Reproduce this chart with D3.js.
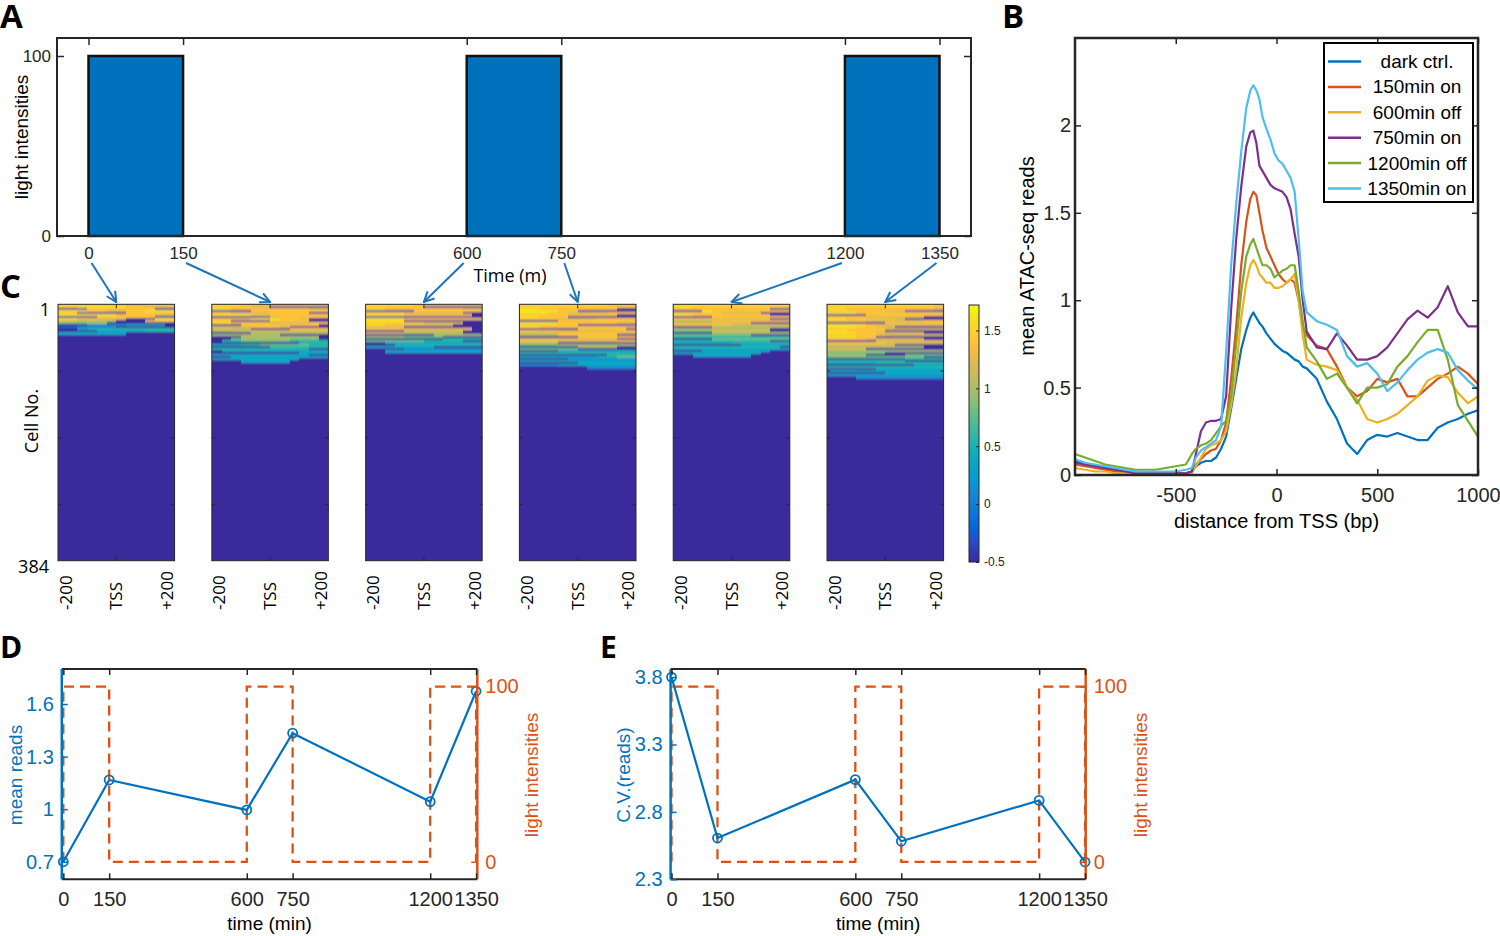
<!DOCTYPE html>
<html>
<head>
<meta charset="utf-8">
<title>Light pulses and chromatin accessibility</title>
<script src="https://cdn.jsdelivr.net/npm/d3@7/dist/d3.min.js"></script>
<style>
  html, body { margin: 0; background: #fff; }
  svg { display: block; }
</style>
</head>
<body>
<svg id="fig" width="1500" height="936"></svg>
<script>
"use strict";

// ---------------------------------------------------------------------------
// Five-panel figure: light schedule (A), mean ATAC-seq profiles (B), per-cell
// heatmaps at each sampling time (C), and mean / C.V. of reads over time with
// the light schedule on a right axis (D, E).
// ---------------------------------------------------------------------------

// light schedule (minutes)
const timeTicks = [0, 150, 600, 750, 1200, 1350];
const lightOnStart = [0, 600, 1200];
const lightOnEnd = [150, 750, 1350];
const lightLevel = 100;
const lightStepTimes = [0, 0, 150, 150, 600, 600, 750, 750, 1200, 1200, 1350, 1350];
const lightStepLevels = [0, 100, 100, 0, 0, 100, 100, 0, 0, 100, 100, 0];

// D / E
const sampleTimes = [0, 150, 600, 750, 1200, 1350];
const meanReads = [0.70, 1.167, 0.996, 1.434, 1.043, 1.673];
const cvReads = [3.80, 2.606, 3.039, 2.582, 2.885, 2.428];
const meanTicks = [0.7, 1, 1.3, 1.6];
const cvTicks = [2.3, 2.8, 3.3, 3.8];
const lightTicks = [0, 100];

// B: distance from TSS (bp) and mean reads per condition
const bpGrid = [-1000, -950, -900, -850, -800, -750, -700, -650, -600, -550, -500, -450,
  -420, -400, -375, -350, -325, -300, -275, -250, -225, -200, -175, -150,
  -130, -115, -100, -85, -70, -50, -30, -10, 10, 30, 50, 70, 90, 110, 130, 150,
  200, 250, 300, 350, 400, 450, 500, 550, 600, 650, 700, 750, 800, 850, 900, 950, 1000];
const darkCtrl = [0.08, 0.06, 0.05, 0.04, 0.03, 0.02, 0.02, 0.01, 0.01, 0.01, 0.01, 0.01,
  0.02, 0.05, 0.07, 0.08, 0.08, 0.10, 0.15, 0.22, 0.38, 0.55, 0.72, 0.83,
  0.90, 0.93, 0.90, 0.87, 0.85, 0.81, 0.78, 0.75, 0.73, 0.71, 0.70, 0.68, 0.66, 0.65, 0.62, 0.61,
  0.55, 0.42, 0.32, 0.18, 0.12, 0.20, 0.23, 0.22, 0.24, 0.22, 0.20, 0.20, 0.27, 0.30, 0.32, 0.35, 0.37];
const on150 = [0.06, 0.05, 0.04, 0.03, 0.02, 0.01, 0.01, 0.01, 0.01, 0.01, 0.01, 0.01,
  0.02, 0.06, 0.09, 0.12, 0.14, 0.15, 0.20, 0.30, 0.55, 0.85, 1.20, 1.45,
  1.58, 1.62, 1.60, 1.50, 1.40, 1.30, 1.25, 1.20, 1.15, 1.12, 1.10, 1.12, 1.10, 1.00, 0.85, 0.80,
  0.74, 0.72, 0.62, 0.50, 0.45, 0.48, 0.55, 0.53, 0.55, 0.45, 0.45, 0.50, 0.55, 0.58, 0.62, 0.58, 0.52];
const off600 = [0.04, 0.03, 0.02, 0.02, 0.01, 0.01, 0.01, 0.00, 0.00, 0.00, 0.00, 0.01,
  0.01, 0.05, 0.10, 0.15, 0.17, 0.18, 0.20, 0.25, 0.40, 0.60, 0.90, 1.10,
  1.20, 1.23, 1.20, 1.15, 1.13, 1.10, 1.10, 1.07, 1.07, 1.08, 1.10, 1.12, 1.15, 1.00, 0.80, 0.66,
  0.63, 0.62, 0.60, 0.50, 0.43, 0.32, 0.30, 0.32, 0.35, 0.40, 0.45, 0.54, 0.57, 0.56, 0.47, 0.41, 0.45];
const on750 = [0.07, 0.06, 0.05, 0.04, 0.03, 0.02, 0.01, 0.01, 0.01, 0.01, 0.01, 0.01,
  0.02, 0.12, 0.25, 0.30, 0.31, 0.31, 0.32, 0.45, 0.95, 1.35, 1.65, 1.88,
  1.96, 1.97, 1.90, 1.77, 1.74, 1.70, 1.66, 1.64, 1.63, 1.62, 1.59, 1.52, 1.38, 1.25, 1.00, 0.82,
  0.73, 0.72, 0.81, 0.74, 0.66, 0.66, 0.68, 0.73, 0.81, 0.89, 0.94, 0.90, 0.96, 1.08, 0.93, 0.85, 0.85];
const off1200 = [0.12, 0.10, 0.08, 0.06, 0.05, 0.04, 0.03, 0.03, 0.03, 0.04, 0.05, 0.06,
  0.12, 0.15, 0.17, 0.18, 0.20, 0.24, 0.28, 0.31, 0.45, 0.75, 1.05, 1.25,
  1.32, 1.35, 1.30, 1.25, 1.20, 1.20, 1.18, 1.13, 1.15, 1.17, 1.18, 1.20, 1.20, 1.05, 0.88, 0.73,
  0.65, 0.55, 0.58, 0.50, 0.41, 0.50, 0.50, 0.52, 0.62, 0.68, 0.76, 0.83, 0.83, 0.66, 0.40, 0.31, 0.22];
const on1350 = [0.09, 0.07, 0.06, 0.05, 0.04, 0.03, 0.02, 0.02, 0.02, 0.02, 0.02, 0.03,
  0.04, 0.10, 0.14, 0.16, 0.18, 0.20, 0.28, 0.70, 1.20, 1.55, 1.85, 2.10,
  2.20, 2.23, 2.20, 2.15, 2.05, 1.98, 1.92, 1.84, 1.80, 1.78, 1.74, 1.70, 1.62, 1.35, 1.05, 0.93,
  0.88, 0.86, 0.83, 0.68, 0.62, 0.64, 0.58, 0.48, 0.53, 0.60, 0.66, 0.70, 0.72, 0.70, 0.60, 0.54, 0.49];
const seriesNames = ["dark ctrl.", "150min on", "600min off", "750min on", "1200min off", "1350min on"];
const bTicksX = [-500, 0, 500, 1000];
const bTicksY = [0, 0.5, 1, 1.5, 2];

// C: per-cell heatmaps. Each string is a band of 3 cells (rows), 12 bins across
// -200..+200 bp; digits index heatLevels. Cells below the listed bands are at -0.5.
const nCells = 384;
const rowsPerBand = 3;
const heatLevels = [-0.5, -0.2, 0.1, 0.35, 0.55, 0.8, 1.0, 1.2, 1.4, 1.6];
const hmT0 = [
  "998888877888", "889999988777", "000888888800", "999887788999", "880000088888",
  "999999888877", "000088888800", "998877700099", "776666000888", "555660000000",
  "000222233330", "112222000000", "003444444444", "000033333444", "333333300000"];
const hmT150 = [
  "999888888888", "888877000000", "998888888877", "000088888888", "887777888800",
  "999988888888", "000000788888", "888899988700", "880000888800", "998888777788",
  "000888888880", "777788870000", "776600008888", "667777777777", "000066666666",
  "666666600000", "000666666660", "005666665550", "044555554444", "000000000444",
  "333445555544", "000000444444", "444444444400", "033333333333", "000000000333",
  "333333333300", "003333333333", "333333333000", "000333330000"];
const hmT600 = [
  "999998888888", "888888000000", "998888888877", "000008888888", "888877777700",
  "999988888880", "000000000000", "999988888888", "999900000000", "888888777700",
  "998877777000", "777700000000", "888877777780", "000077777700", "777766666600",
  "000000066666", "666655550000", "000000004444", "555555444400", "003333333333",
  "000444444444", "333333300000", "000022222222", "003333333333"];
const hmT750 = [
  "999999999888", "888888888888", "998888888800", "999988000000", "999887777888",
  "888888888800", "998880000000", "888877778888", "000088888888", "999988888877",
  "888888000000", "998888888888", "000000888880", "888877777788", "777788888877",
  "666688888800", "000000888888", "777777777700", "888877777788", "666600000000",
  "555566666666", "000000666600", "555555000000", "000033333333", "444444444444",
  "000000000444", "333333334455", "000002222222", "333333333333", "000000333333",
  "222233333333", "000000022222"];
const hmT1200 = [
  "999999999999", "998888888888", "888888888800", "000988888888", "888887777000",
  "998888888800", "000088888888", "888877777700", "666688888888", "777777770000",
  "888888777777", "000066666666", "666666666600", "555577777700", "000066666666",
  "555555550000", "444444444444", "000055555555", "444444444400", "333333444444",
  "000000033333", "444444444440", "333333333333", "000333333300", "333333333000",
  "003333330000"];
const hmT1350 = [
  "999999999998", "888888888888", "998888888887", "888888770000", "999888888888",
  "000088888888", "888877777700", "998888870000", "888877777788", "000000888888",
  "999988777777", "999887700000", "888888777777", "998888000000", "999887777700",
  "888888777777", "999880000000", "888877777700", "000007777777", "888888777777",
  "777777700000", "666666666600", "777700000000", "666666666666", "555555000000",
  "666600005555", "555555555500", "000000004444", "444444440000", "333334444444",
  "000000000333", "444444444444", "000003333333", "333333333333", "000000333333",
  "333333333333", "000222222222"];
const hmTickVals = [-200, 0, 200];
const hmTickText = ["-200", "TSS", "+200"];
const cbTicks = [-0.5, 0, 0.5, 1, 1.5];

// ---------------------------------------------------------------------------
const svg = d3.select("#fig");
const defs = svg.append("defs");
const INK = "#262626";
const BLUE = "#0072BD";
const ORANGE = "#D95319";
const ARROW = "#1f73bd";
const SANS = '"Liberation Sans", Arial, sans-serif';
const CAL = '"Open Sans", sans-serif';
const seriesColors = ["#0072BD", "#D95319", "#EDB120", "#7E2F8E", "#77AC30", "#4DBEEE"];
// parula, sampled at these positions of its 64-step table
const PARULA_POS = [0, 5, 9, 13, 17, 21, 25, 29, 33, 37, 41, 45, 49, 53, 56, 60, 63];
const PARULA = ["#3A2A9C", "#2C4AC7", "#0268E1", "#1079DA", "#1389D3", "#079CCF", "#07A9C2",
  "#1DB3AF", "#42BB98", "#71BF80", "#9BBF6F", "#C0BC60", "#E1B952", "#FDBE3D", "#FCCE2E",
  "#F5E41D", "#F9FB0E"];

// d3 axis with the domain line removed and MATLAB-ish text
function put(gen, x, y, color = INK, fs = 17) {
  const g = svg.append("g").attr("transform", `translate(${x},${y})`).call(gen);
  g.attr("font-family", null).attr("font-size", null);
  g.select(".domain").remove();
  g.selectAll(".tick line").attr("stroke", color).attr("stroke-width", 1.5);
  g.selectAll(".tick text").attr("fill", color).style("font-size", fs + "px").style("font-family", SANS);
  return g;
}

function text(str, x, y, o = {}) {
  const t = svg.append("text").text(str)
    .attr("transform", o.rot ? `translate(${x},${y}) rotate(${o.rot})` : `translate(${x},${y})`)
    .attr("text-anchor", o.anchor || "middle")
    .style("font-family", o.font || SANS)
    .style("font-size", (o.fs || 18) + "px")
    .attr("fill", o.color || "#000");
  if (o.bold) t.style("font-weight", 700);
  if (o.baseline) t.attr("dominant-baseline", o.baseline);
  return t;
}

const fmt = (d) => String(d);

// ---------------- Panel A: light schedule ----------------
const xA = d3.scaleLinear().domain([-50, 1400]).range([57, 971]);
const yA = d3.scaleLinear().domain([0, 110]).range([236, 38]);

svg.append("g").selectAll("rect")
  .data(lightOnStart.map((s, i) => ({ s, e: lightOnEnd[i] })))
  .join("rect")
  .attr("x", (d) => xA(d.s))
  .attr("width", (d) => xA(d.e) - xA(d.s))
  .attr("y", yA(lightLevel))
  .attr("height", yA(0) - yA(lightLevel))
  .attr("fill", BLUE)
  .attr("stroke", "#111")
  .attr("stroke-width", 2.5);

svg.append("rect").attr("x", 57).attr("y", 38).attr("width", 914).attr("height", 198)
  .attr("fill", "none").attr("stroke", INK).attr("stroke-width", 2);
put(d3.axisTop(xA).tickValues(timeTicks).tickSize(-7).tickFormat(""), 0, 38);
put(d3.axisBottom(xA).tickValues(timeTicks).tickSize(0).tickPadding(11).tickFormat(fmt), 0, 236, INK, 17);
put(d3.axisLeft(yA).tickValues(lightTicks).tickSize(-7).tickPadding(6).tickFormat(fmt), 57, 0, INK, 17);
put(d3.axisRight(yA).tickValues(lightTicks).tickSize(-7).tickFormat(""), 971, 0);
text("light intensities", 28, yA(55), { rot: -90, fs: 19 });
text("Time (m)", 510, 282, { font: CAL, fs: 18 });

// ---------------- Panel C: heatmaps ----------------
const hmData = [hmT0, hmT150, hmT600, hmT750, hmT1200, hmT1350];
const hmX = d3.scaleBand().domain(d3.range(hmData.length)).range([58, 943.6]).paddingInner(0.242);
const hmBp = d3.scaleLinear().domain([-230, 230]).range([0, hmX.bandwidth()]);
const cellY = d3.scaleLinear().domain([0, nCells]).range([304.3, 560.7]);
const cbMin = -0.5, cbMax = 1.72;
const cmap = d3.scaleLinear()
  .domain(PARULA_POS.map((k) => cbMin + (k / 63) * (cbMax - cbMin)))
  .range(PARULA).clamp(true);
const nBins = hmT0[0].length;
const binEdges = d3.range(nBins + 1).map((j) => -230 + (j * 460) / nBins);

const cells = [];
hmData.forEach((bands, p) => {
  bands.forEach((row, b) => {
    for (let j = 0; j < nBins; j++) cells.push({ p, b, j, v: heatLevels[+row[j]] });
  });
});

// soft vertical blend, like thin rows seen at print resolution
defs.append("filter").attr("id", "rowblend").attr("x", 0).attr("y", -0.02).attr("width", 1).attr("height", 1.04)
  .append("feGaussianBlur").attr("stdDeviation", "0 0.85");
defs.selectAll("clipPath.hm").data(hmData).join("clipPath").attr("class", "hm").attr("id", (d, p) => "hmclip" + p)
  .append("rect").attr("x", (d, p) => hmX(p)).attr("width", hmX.bandwidth())
  .attr("y", cellY(0)).attr("height", cellY(nCells) - cellY(0));

hmData.forEach((bands, p) => {
  const gp = svg.append("g").attr("clip-path", `url(#hmclip${p})`)
    .append("g").attr("filter", "url(#rowblend)").attr("shape-rendering", "crispEdges");
  gp.append("rect").attr("x", hmX(p)).attr("width", hmX.bandwidth())
    .attr("y", cellY(0) - 3).attr("height", cellY(nCells) - cellY(0) + 6)
    .attr("fill", cmap(heatLevels[0]));
  gp.selectAll("rect.cell").data(cells.filter((c) => c.p === p)).join("rect").attr("class", "cell")
    .attr("x", (d) => hmX(d.p) + hmBp(binEdges[d.j]))
    .attr("width", (d) => hmBp(binEdges[d.j + 1]) - hmBp(binEdges[d.j]) + 0.3)
    .attr("y", (d) => cellY(d.b * rowsPerBand) - (d.b === 0 ? 3 : 0))
    .attr("height", (d) => cellY(rowsPerBand) - cellY(0) + 0.2 + (d.b === 0 ? 3 : 0))
    .attr("fill", (d) => cmap(d.v));
});

hmData.forEach((_, p) => {
  const x0 = hmX(p), x1 = x0 + hmX.bandwidth();
  svg.append("rect").attr("x", x0).attr("y", cellY(0)).attr("width", hmX.bandwidth())
    .attr("height", cellY(nCells) - cellY(0)).attr("fill", "none").attr("stroke", INK).attr("stroke-width", 1);
  [100, 200, 300].forEach((r) => {
    svg.append("line").attr("x1", x0).attr("x2", x0 + 3).attr("y1", cellY(r)).attr("y2", cellY(r)).attr("stroke", INK);
    svg.append("line").attr("x1", x1).attr("x2", x1 - 3).attr("y1", cellY(r)).attr("y2", cellY(r)).attr("stroke", INK);
  });
  const xt = x0 + hmBp(0);
  svg.append("line").attr("x1", xt).attr("x2", xt).attr("y1", cellY(0)).attr("y2", cellY(0) + 4).attr("stroke", INK);
  svg.append("line").attr("x1", xt).attr("x2", xt).attr("y1", cellY(nCells)).attr("y2", cellY(nCells) - 4).attr("stroke", INK);
  hmTickVals.forEach((v, k) => {
    text(hmTickText[k], x0 + hmBp(v) + 6, 610, { rot: -90, anchor: "start", font: CAL, fs: 17 });
  });
});
text("1", 50, cellY(1) + 4, { anchor: "end", font: CAL, fs: 18, baseline: "central" });
text("384", 49, cellY(nCells) + 5, { anchor: "end", font: CAL, fs: 18, baseline: "central" });
text("Cell No.", 38, 421, { rot: -90, font: CAL, fs: 18 });

// colour bar
const cbY = d3.scaleLinear().domain([cbMin, cbMax]).range([562, 305]);
const grad = defs.append("linearGradient").attr("id", "cbgrad")
  .attr("x1", 0).attr("y1", 1).attr("x2", 0).attr("y2", 0);
d3.range(0, 1.0001, 0.025).forEach((t) => {
  grad.append("stop").attr("offset", t).attr("stop-color", cmap(cbMin + t * (cbMax - cbMin)));
});
svg.append("rect").attr("x", 969).attr("y", cbY(cbMax)).attr("width", 10)
  .attr("height", cbY(cbMin) - cbY(cbMax)).attr("fill", "url(#cbgrad)").attr("stroke", INK).attr("stroke-width", 1);
const gcb = put(d3.axisRight(cbY).tickValues(cbTicks).tickSize(-3).tickPadding(5).tickFormat(fmt), 979, 0, INK, 12);
gcb.selectAll(".tick line").attr("stroke-width", 1);

// arrows from schedule times to heatmaps
defs.append("marker").attr("id", "ah").attr("viewBox", "0 0 12 12").attr("refX", 11).attr("refY", 6)
  .attr("markerWidth", 12).attr("markerHeight", 12).attr("markerUnits", "userSpaceOnUse").attr("orient", "auto")
  .append("path").attr("d", "M1,1 L11,6 L1,11").attr("fill", "none").attr("stroke", ARROW).attr("stroke-width", 2);
svg.append("g").selectAll("line").data(timeTicks).join("line")
  .attr("x1", (t, i) => xA(t) + 3 * Math.sign(hmX(i) + hmX.bandwidth() / 2 - xA(t)))
  .attr("y1", 263)
  .attr("x2", (t, i) => hmX(i) + hmX.bandwidth() / 2)
  .attr("y2", 302)
  .attr("stroke", ARROW).attr("stroke-width", 2).attr("marker-end", "url(#ah)");

// ---------------- Panel B: mean ATAC-seq profiles ----------------
const xB = d3.scaleLinear().domain([-1000, 1000]).range([1075, 1478]);
const yB = d3.scaleLinear().domain([0, 2.5]).range([475, 38]);
const seriesB = [darkCtrl, on150, off600, on750, off1200, on1350];
const lineB = d3.line().x((d, i) => xB(bpGrid[i])).y((d) => yB(d));
svg.append("g").selectAll("path").data(seriesB).join("path")
  .attr("d", lineB).attr("fill", "none")
  .attr("stroke", (d, i) => seriesColors[i]).attr("stroke-width", 2.2).attr("stroke-linejoin", "round");
svg.append("rect").attr("x", 1075).attr("y", 38).attr("width", 403).attr("height", 437)
  .attr("fill", "none").attr("stroke", INK).attr("stroke-width", 2.5);
put(d3.axisBottom(xB).tickValues(bTicksX).tickSize(-6).tickPadding(13).tickFormat(fmt), 0, 475, INK, 20);
put(d3.axisTop(xB).tickValues(bTicksX).tickSize(-6).tickFormat(""), 0, 38);
put(d3.axisLeft(yB).tickValues(bTicksY).tickSize(-6).tickPadding(4).tickFormat(fmt), 1075, 0, INK, 20);
put(d3.axisRight(yB).tickValues(bTicksY).tickSize(-6).tickFormat(""), 1478, 0);
text("distance from TSS (bp)", xB(0), 528, { fs: 20 });
text("mean ATAC-seq reads", 1034, 256, { rot: -90, fs: 20 });

// legend
const legY = d3.scalePoint().domain(seriesNames).range([61.5, 188.5]);
svg.append("rect").attr("x", 1324).attr("y", 43).attr("width", 149).attr("height", 159)
  .attr("fill", "#fff").attr("stroke", "#000").attr("stroke-width", 2);
const leg = svg.append("g").selectAll("g").data(seriesNames).join("g");
leg.append("line").attr("x1", 1328).attr("x2", 1361)
  .attr("y1", (d) => legY(d)).attr("y2", (d) => legY(d))
  .attr("stroke", (d, i) => seriesColors[i]).attr("stroke-width", 2.5);
leg.append("text").text((d) => d).attr("x", 1417).attr("y", (d) => legY(d))
  .attr("text-anchor", "middle").attr("dominant-baseline", "central")
  .style("font-family", SANS).style("font-size", "19px");

// ---------------- Panels D and E: dual-axis time courses ----------------
function dualPanel(opts) {
  const { x0, x1, dom, yDom, vals, yTicks, yLab, labX, rLabX } = opts;
  const top = 669, bot = 879.3;
  const x = d3.scaleLinear().domain(dom).range([x0, x1]);
  const y = d3.scaleLinear().domain(yDom).range([bot, top]);
  const yR = d3.scaleLinear().domain([-10, 110]).range([bot, top]);

  const light = d3.line().x((d, i) => x(lightStepTimes[i])).y((d) => yR(d));
  svg.append("path").datum(lightStepLevels).attr("d", light).attr("fill", "none")
    .attr("stroke", ORANGE).attr("stroke-width", 2.3).attr("stroke-dasharray", "10,6");

  const line = d3.line().x((d, i) => x(sampleTimes[i])).y((d) => y(d));
  svg.append("path").datum(vals).attr("d", line).attr("fill", "none")
    .attr("stroke", BLUE).attr("stroke-width", 2.2);
  svg.append("g").selectAll("circle").data(vals).join("circle")
    .attr("cx", (d, i) => x(sampleTimes[i])).attr("cy", (d) => y(d)).attr("r", 4.5)
    .attr("fill", "none").attr("stroke", BLUE).attr("stroke-width", 1.8);

  // frame: black top/bottom, coloured sides
  svg.append("line").attr("x1", x0).attr("x2", x1).attr("y1", top).attr("y2", top).attr("stroke", INK).attr("stroke-width", 2);
  svg.append("line").attr("x1", x0).attr("x2", x1).attr("y1", bot).attr("y2", bot).attr("stroke", INK).attr("stroke-width", 2);
  svg.append("line").attr("x1", x0).attr("x2", x0).attr("y1", top).attr("y2", bot).attr("stroke", BLUE).attr("stroke-width", 2.5);
  svg.append("line").attr("x1", x1).attr("x2", x1).attr("y1", top).attr("y2", bot).attr("stroke", ORANGE).attr("stroke-width", 2.5);

  put(d3.axisBottom(x).tickValues(timeTicks).tickSize(-6).tickPadding(13).tickFormat(fmt), 0, bot, INK, 20);
  put(d3.axisTop(x).tickValues(timeTicks).tickSize(-6).tickFormat(""), 0, top);
  put(d3.axisLeft(y).tickValues(yTicks).tickSize(-6).tickPadding(8).tickFormat(fmt), x0, 0, BLUE, 20);
  put(d3.axisRight(yR).tickValues(lightTicks).tickSize(-6).tickPadding(8).tickFormat(fmt), x1, 0, ORANGE, 20);

  text("time (min)", (x0 + x1) / 2, 930, { fs: 19 });
  text(yLab, labX, 775, { rot: -90, fs: 19, color: BLUE });
  text("light intensities", rLabX, 775, { rot: -90, fs: 19, color: ORANGE });
}

dualPanel({ x0: 61.8, x1: 477.3, dom: [-5, 1354], yDom: [0.6, 1.8], vals: meanReads,
  yTicks: meanTicks, yLab: "mean reads", labX: 22, rLabX: 538 });
dualPanel({ x0: 670.6, x1: 1085.7, dom: [-3, 1352], yDom: [2.3, 3.86], vals: cvReads,
  yTicks: cvTicks, yLab: "C.V.(reads)", labX: 630, rLabX: 1147 });

// ---------------- panel letters ----------------
text("A", 0, 28, { anchor: "start", font: CAL, fs: 33, bold: true });
text("B", 1002, 28, { anchor: "start", font: CAL, fs: 33, bold: true });
text("C", 0, 298, { anchor: "start", font: CAL, fs: 33, bold: true });
text("D", 0, 658, { anchor: "start", font: CAL, fs: 30, bold: true });
text("E", 600, 658, { anchor: "start", font: CAL, fs: 30, bold: true });
</script>
</body>
</html>
